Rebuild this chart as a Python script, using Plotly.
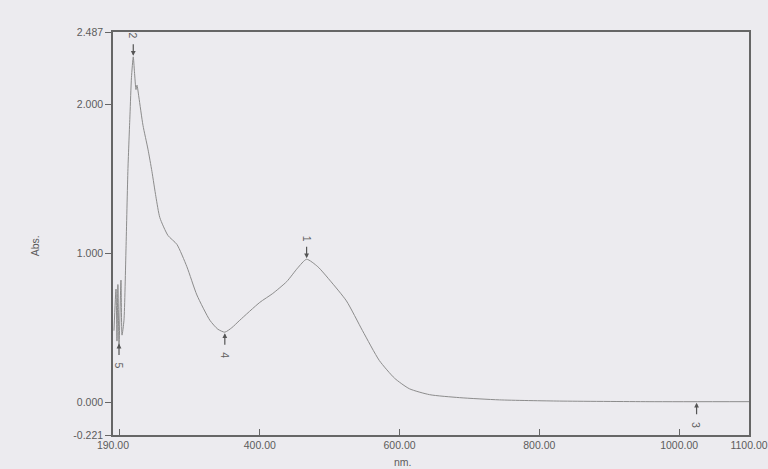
import plotly.graph_objects as go

# Spectrum (wavelength in nm, absorbance)
wavelength = [191.4, 194.3, 195.7, 197.0, 198.6, 201.4, 202.9, 205.7, 208.6, 211.4,
              214.3, 216.4, 219.0, 220.7, 222.9, 224.3, 227.0, 232.9, 240.0, 245.7,
              251.4, 257.0, 268.6, 281.4, 295.7, 310.0, 328.6, 340.0, 350.0, 360.0,
              371.4, 400.0, 418.6, 438.6, 454.0, 467.0, 483.0, 500.0, 524.0, 547.0,
              571.0, 593.0, 614.0, 643.0, 686.0, 743.0, 829.0, 957.0, 1100.0]
absorbance = [0.48, 0.76, 0.41, 0.79, 0.38, 0.82, 0.45, 0.55, 1.03, 1.57,
              1.93, 2.18, 2.32, 2.22, 2.10, 2.13, 2.05, 1.86, 1.70, 1.55,
              1.38, 1.24, 1.12, 1.06, 0.91, 0.72, 0.55, 0.49, 0.47, 0.50,
              0.55, 0.67, 0.73, 0.81, 0.90, 0.96, 0.91, 0.82, 0.68, 0.48,
              0.28, 0.16, 0.09, 0.05, 0.03, 0.015, 0.007, 0.003, 0.003]

# Peak / valley picks
pick_labels = ["1", "2", "3", "4", "5"]
pick_nm = [467.0, 219.0, 1025.0, 350.0, 198.6]
pick_abs = [0.96, 2.32, 0.003, 0.47, 0.40]
pick_side = ["above", "above", "below", "below", "below"]

x_tickvals = [190, 400, 600, 800, 1000, 1100]
x_ticktext = ["190.00", "400.00", "600.00", "800.00", "1000.00", "1100.00"]
y_tickvals = [-0.221, 0.0, 1.0, 2.0, 2.487]
y_ticktext = ["-0.221", "0.000", "1.000", "2.000", "2.487"]

ink = "#5c5c5c"
font = dict(family="Liberation Sans, Arial, sans-serif", size=10.5, color=ink)

fig = go.Figure()
fig.add_trace(go.Scatter(x=wavelength, y=absorbance, mode="lines",
                         line=dict(color="#8c8c8c", width=1, shape="spline", smoothing=0.6),
                         hoverinfo="skip", showlegend=False))

for lab, xv, yv, side in zip(pick_labels, pick_nm, pick_abs, pick_side):
    ay = -14 if side == "above" else 14
    fig.add_annotation(x=xv, y=yv, xref="x", yref="y", text="", showarrow=True,
                       arrowhead=2, arrowsize=0.8, arrowwidth=1.2, arrowcolor="#555555",
                       ax=0, ay=ay, standoff=1)
    fig.add_annotation(x=xv, y=yv, xref="x", yref="y", text=lab, showarrow=False,
                       textangle=90, font=font,
                       yshift=(21 if side == "above" else -23))

fig.add_annotation(x=-0.123, y=0.47, xref="paper", yref="paper", text="Abs.",
                   showarrow=False, textangle=-90, font=font,
                   xanchor="center", yanchor="middle")
fig.add_annotation(x=0.456, y=-0.066, xref="paper", yref="paper", text="nm.",
                   showarrow=False, font=font, xanchor="center", yanchor="middle")

fig.update_layout(
    width=768, height=469,
    margin=dict(l=113, r=19, t=32, b=34),
    paper_bgcolor="#ecebef", plot_bgcolor="#ecebef",
    font=font,
    xaxis=dict(range=[190, 1100], tickvals=x_tickvals, ticktext=x_ticktext,
               ticks="inside", ticklen=6, tickcolor="#666666", showgrid=False,
               zeroline=False, showline=True, linecolor="#666666", linewidth=1.5,
               mirror=True, tickfont=font, automargin=False,
               minor=dict(tickvals=[200], ticks="inside", ticklen=6, tickcolor="#666666")),
    yaxis=dict(range=[-0.221, 2.487], tickvals=y_tickvals, ticktext=y_ticktext,
               ticks="outside", ticklen=6, tickcolor="#666666", showgrid=False,
               zeroline=False, showline=True, linecolor="#666666", linewidth=1.5,
               mirror=True, tickfont=font, automargin=False),
)

fig.write_html("out.html", config={"displayModeBar": False},
               post_script="document.documentElement.style.margin='0';"
                           "document.body.style.margin='0';"
                           "document.body.style.overflow='hidden';")
